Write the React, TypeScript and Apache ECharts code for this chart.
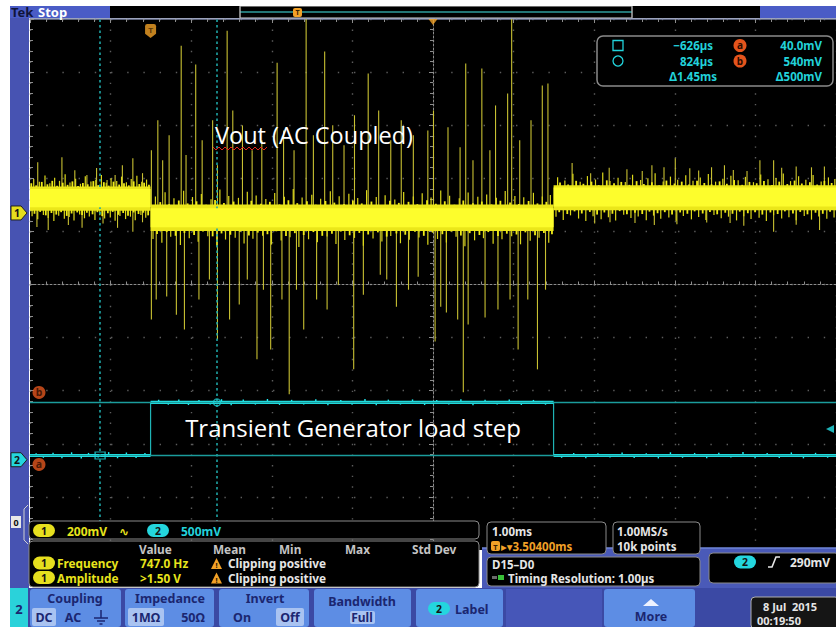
import React, { useEffect, useRef } from "react";
import * as echarts from "echarts";

const timePerDiv = 1; // ms / div
const horizontalDelay = 3.504; // ms at screen centre
const ch1Scale = 200; // mV / div
const ch2Scale = 500; // mV / div
const ch1Position = 1.347; // div
const ch2Position = -3.3; // div

// ---------- channel 1 (Vout, AC coupled), mV ----------
const ch1SegStart = [-1.496, 0, 5.0];
const ch1SegEnd = [0, 5.0, 8.504];
const ch1BandHigh = [100, 32, 104];
const ch1BandLow = [8, -68, 10];
const ch1CoreHigh = [90, 18, 96];
const ch1CoreLow = [22, -54, 24];

const ch1FuzzUp = [
  [-1.45, 128], [-1.38, 118], [-1.31, 141], [-1.25, 112], [-1.19, 133], [-1.13, 121], [-1.06, 146], [-1.0, 115],
  [-0.93, 129], [-0.87, 110], [-0.81, 138], [-0.74, 119], [-0.68, 125], [-0.61, 143], [-0.55, 114], [-0.49, 131],
  [-0.42, 120], [-0.36, 137], [-0.3, 116], [-0.24, 128], [-0.17, 140], [-0.11, 118], [-0.05, 126],
  [0.06, 62], [0.18, 78], [0.29, 55], [0.41, 84], [0.52, 60], [0.63, 71], [0.75, 52], [0.86, 88], [0.97, 64],
  [1.09, 57], [1.2, 80], [1.31, 66], [1.43, 53], [1.54, 75], [1.66, 61], [1.77, 90], [1.88, 58], [2.0, 69],
  [2.11, 54], [2.23, 82], [2.34, 63], [2.46, 72], [2.57, 56], [2.68, 86], [2.8, 60], [2.91, 67], [3.03, 51],
  [3.14, 79], [3.26, 62], [3.37, 74], [3.48, 58], [3.6, 85], [3.71, 65], [3.83, 55], [3.94, 77], [4.06, 61],
  [4.17, 70], [4.29, 57], [4.4, 83], [4.52, 64], [4.63, 59], [4.75, 76], [4.86, 62], [4.96, 68],
  [5.05, 135], [5.14, 122], [5.24, 148], [5.33, 118], [5.42, 139], [5.52, 126], [5.61, 152], [5.7, 120],
  [5.8, 133], [5.89, 117], [5.98, 144], [6.08, 124], [6.17, 131], [6.26, 150], [6.36, 119], [6.45, 137],
  [6.54, 125], [6.64, 142], [6.73, 121], [6.82, 134], [6.92, 147], [7.01, 118], [7.1, 129], [7.2, 140],
  [7.29, 123], [7.38, 136], [7.48, 116], [7.57, 145], [7.66, 127], [7.76, 132], [7.85, 149], [7.94, 120],
  [8.04, 138], [8.13, 125], [8.22, 143], [8.32, 119], [8.41, 134], [8.49, 128],
];
const ch1FuzzDown = [
  [-1.47, -12], [-1.4, -24], [-1.33, -8], [-1.27, -19], [-1.2, -30], [-1.14, -10], [-1.07, -22], [-1.01, -15],
  [-0.95, -28], [-0.88, -6], [-0.82, -20], [-0.76, -13], [-0.69, -26], [-0.63, -9], [-0.57, -21], [-0.5, -17],
  [-0.44, -29], [-0.38, -11], [-0.31, -23], [-0.25, -14], [-0.19, -27], [-0.12, -8], [-0.06, -18],
  [0.03, -98], [0.14, -112], [0.25, -90], [0.37, -121], [0.48, -95], [0.59, -108], [0.71, -88], [0.82, -126],
  [0.93, -100], [1.05, -93], [1.16, -115], [1.27, -97], [1.39, -86], [1.5, -119], [1.62, -104], [1.73, -91],
  [1.84, -128], [1.96, -99], [2.07, -110], [2.19, -89], [2.3, -117], [2.41, -102], [2.53, -94], [2.64, -123],
  [2.76, -96], [2.87, -107], [2.98, -87], [3.1, -114], [3.21, -101], [3.33, -92], [3.44, -120], [3.56, -98],
  [3.67, -111], [3.79, -90], [3.9, -125], [4.02, -103], [4.13, -95], [4.25, -116], [4.36, -99], [4.48, -88],
  [4.59, -118], [4.71, -105], [4.82, -93], [4.94, -112],
  [5.03, -14], [5.12, -26], [5.21, -9], [5.31, -21], [5.4, -30], [5.49, -12], [5.59, -24], [5.68, -16],
  [5.77, -28], [5.87, -7], [5.96, -19], [6.05, -13], [6.15, -27], [6.24, -10], [6.33, -22], [6.43, -17],
  [6.52, -29], [6.61, -11], [6.71, -24], [6.8, -15], [6.89, -26], [6.99, -8], [7.08, -20], [7.17, -14],
  [7.27, -28], [7.36, -12], [7.45, -23], [7.55, -18], [7.64, -30], [7.73, -9], [7.83, -21], [7.92, -16],
  [8.01, -27], [8.11, -11], [8.2, -25], [8.29, -13], [8.39, -22], [8.48, -17],
];
// short hairs along the band edges
const ch1EdgeUp = [
  [-1.48, 112], [-1.42, 104], [-1.35, 117], [-1.28, 108], [-1.22, 121], [-1.16, 103], [-1.09, 114], [-1.03, 106],
  [-0.97, 119], [-0.9, 102], [-0.84, 113], [-0.78, 108], [-0.71, 120], [-0.65, 105], [-0.58, 116], [-0.52, 103],
  [-0.46, 118], [-0.39, 107], [-0.33, 112], [-0.27, 104], [-0.21, 119], [-0.14, 109], [-0.08, 114], [-0.02, 106],
  [0.12, 41], [0.23, 33], [0.35, 47], [0.46, 36], [0.57, 44], [0.69, 31], [0.8, 49], [0.91, 38], [1.03, 43],
  [1.14, 30], [1.25, 46], [1.37, 35], [1.48, 42], [1.6, 32], [1.71, 48], [1.82, 37], [1.94, 44], [2.05, 31],
  [2.17, 45], [2.28, 39], [2.4, 34], [2.51, 47], [2.62, 36], [2.74, 43], [2.85, 30], [2.97, 46], [3.08, 38],
  [3.2, 42], [3.31, 33], [3.43, 48], [3.54, 35], [3.65, 44], [3.77, 31], [3.88, 47], [4.0, 37], [4.11, 43],
  [4.23, 32], [4.34, 46], [4.46, 39], [4.57, 34], [4.69, 45], [4.8, 36], [4.91, 42],
  [5.08, 115], [5.18, 107], [5.28, 121], [5.37, 110], [5.47, 118], [5.56, 105], [5.66, 123], [5.75, 112],
  [5.84, 117], [5.94, 106], [6.03, 120], [6.12, 109], [6.22, 116], [6.31, 104], [6.4, 122], [6.5, 111],
  [6.59, 118], [6.68, 107], [6.78, 121], [6.87, 113], [6.96, 108], [7.06, 119], [7.15, 110], [7.24, 124],
  [7.34, 106], [7.43, 117], [7.52, 112], [7.61, 120], [7.71, 105], [7.8, 118], [7.9, 109], [7.99, 122],
  [8.08, 111], [8.18, 116], [8.27, 107], [8.36, 121], [8.45, 113],
];
const ch1EdgeDown = [
  [-1.44, -3], [-1.37, 4], [-1.3, -9], [-1.23, 0], [-1.17, -6], [-1.11, 3], [-1.04, -11], [-0.98, -2],
  [-0.91, 2], [-0.85, -8], [-0.79, 1], [-0.72, -5], [-0.66, 3], [-0.6, -12], [-0.53, -1], [-0.47, 4],
  [-0.4, -7], [-0.34, 0], [-0.28, -10], [-0.21, 2], [-0.15, -4], [-0.09, 1], [-0.03, -9],
  [0.08, -79], [0.2, -72], [0.31, -86], [0.42, -75], [0.54, -83], [0.65, -70], [0.77, -88], [0.88, -77],
  [0.99, -82], [1.11, -71], [1.22, -85], [1.33, -74], [1.45, -80], [1.56, -69], [1.68, -87], [1.79, -76],
  [1.9, -83], [2.02, -72], [2.13, -86], [2.25, -78], [2.36, -70], [2.47, -84], [2.59, -75], [2.7, -81],
  [2.82, -73], [2.93, -89], [3.05, -77], [3.16, -82], [3.28, -71], [3.39, -86], [3.5, -74], [3.62, -80],
  [3.73, -70], [3.85, -85], [3.96, -76], [4.08, -83], [4.19, -72], [4.31, -87], [4.42, -78], [4.54, -81],
  [4.65, -73], [4.77, -84], [4.88, -75], [4.98, -80],
  [5.07, 3], [5.17, -4], [5.26, 6], [5.35, -2], [5.45, 4], [5.54, -6], [5.63, 2], [5.73, -3], [5.82, 7],
  [5.91, -5], [6.01, 1], [6.1, -4], [6.19, 5], [6.29, -1], [6.38, 3], [6.47, -6], [6.57, 2], [6.66, -3],
  [6.75, 6], [6.85, -2], [6.94, 4], [7.03, -5], [7.13, 1], [7.22, -3], [7.31, 5], [7.41, -1], [7.5, 3],
  [7.59, -6], [7.69, 2], [7.78, -4], [7.87, 6], [7.97, -2], [8.06, 4], [8.15, -5], [8.25, 1], [8.34, -3],
  [8.43, 5],
];
const ch1SpikeUp = [
  [-1.4, 191], [-1.1, 210], [-0.94, 161], [-0.79, 143], [-0.67, 169], [-0.54, 124], [-0.44, 143], [-0.35, 180],
  [-0.22, 206], [-0.1, 150],
  [0.01, 236], [0.09, 349], [0.15, 199], [0.23, 293], [0.38, 630], [0.44, 218], [0.56, 559], [0.64, 274],
  [0.77, 349], [0.83, 180], [0.95, 686], [1.02, 386], [1.14, 330], [1.26, 236], [1.38, 274], [1.57, 566],
  [1.65, 311], [1.78, 236], [1.93, 740], [2.02, 293], [2.16, 608], [2.26, 330], [2.4, 255], [2.53, 368],
  [2.7, 525], [2.83, 386], [2.98, 274], [3.11, 349], [3.26, 293], [3.44, 311], [3.51, 386], [3.69, 323],
  [3.84, 248], [3.91, 563], [4.0, 199], [4.11, 544], [4.21, 236], [4.28, 405], [4.43, 450], [4.48, 740],
  [4.58, 274], [4.72, 349], [4.86, 480], [4.93, 488],
  [5.23, 188], [5.46, 150], [5.69, 170], [5.91, 165], [6.1, 158], [6.22, 180], [6.37, 172], [6.51, 206],
  [6.69, 168], [6.8, 160], [6.96, 172], [7.12, 180], [7.23, 162], [7.4, 158], [7.56, 199], [7.73, 199],
  [7.83, 170], [8.01, 175], [8.2, 172], [8.36, 175],
];
const ch1SpikeDown = [
  [-1.41, -53], [-1.27, -64], [-1.02, -45], [-0.85, -56], [-0.59, -40], [-0.41, -56], [-0.22, -71], [-0.1, -35],
  [0.01, -401], [0.07, -326], [0.2, -315], [0.32, -383], [0.42, -439], [0.6, -326], [0.73, -251], [0.83, -476],
  [0.98, -401], [1.1, -345], [1.2, -251], [1.32, -551], [1.4, -289], [1.49, -514], [1.63, -326], [1.72, -683],
  [1.81, -289], [1.9, -439], [2.06, -326], [2.19, -364], [2.33, -270], [2.52, -589], [2.64, -308], [2.85, -233],
  [2.93, -251], [3.05, -353], [3.2, -289], [3.32, -240], [3.53, -484], [3.6, -353], [3.67, -375], [3.81, -401],
  [3.88, -675], [3.94, -420], [4.15, -394], [4.31, -364], [4.46, -326], [4.56, -514], [4.68, -326], [4.8, -589],
  [4.9, -289],
  [5.51, -40], [5.7, -35], [6.01, -38], [6.25, -45], [6.53, -42], [6.9, -36], [7.19, -38], [7.36, -48],
  [7.73, -71], [8.01, -44], [8.3, -64],
];

// ---------- channel 2 (load step), mV ----------
const ch2SegStart = [-1.496, 0, 5.0];
const ch2SegEnd = [0, 5.0, 8.504];
const ch2Level = [40, 540, 40];
const ch2Fuzz = [
  [-1.42, 62], [-1.33, 18], [-1.21, 66], [-1.1, 15], [-0.98, 70], [-0.86, 12], [-0.77, 64], [-0.65, 20],
  [-0.52, 72], [-0.41, 14], [-0.3, 68], [-0.18, 16], [-0.07, 63],
  [0.1, 565], [0.22, 518], [0.35, 568], [0.47, 515], [0.6, 562], [0.74, 520], [0.88, 570], [1.0, 512],
  [1.15, 566], [1.3, 519], [1.45, 572], [1.6, 516], [1.75, 564], [1.9, 521], [2.05, 569], [2.2, 514],
  [2.36, 563], [2.5, 518], [2.66, 571], [2.8, 513], [2.95, 566], [3.1, 520], [3.25, 568], [3.4, 515],
  [3.55, 562], [3.7, 519], [3.85, 570], [4.0, 514], [4.15, 565], [4.3, 521], [4.45, 567], [4.6, 516],
  [4.75, 563], [4.9, 518],
  [5.1, 18], [5.25, 64], [5.4, 14], [5.55, 60], [5.7, 20], [5.85, 68], [6.0, 16], [6.15, 62], [6.3, 12],
  [6.45, 70], [6.6, 18], [6.75, 64], [6.9, 15], [7.05, 66], [7.2, 20], [7.35, 72], [7.5, 14], [7.65, 63],
  [7.8, 17], [7.95, 69], [8.1, 13], [8.25, 65], [8.4, 19],
];

// ---------- cursors / trigger ----------
const cursorTimes = [-0.626, 0.824]; // ms
const cursorLevels = [40, 540]; // mV (a, b)
const cursorLabels = ["a", "b"];
const triggerTime = 0; // ms
const triggerLevel = 290; // mV

// ---------- readouts ----------
const cursorReadTime = ["\u2212626\u00b5s", "824\u00b5s", "\u03941.45ms"];
const cursorReadVolt = ["40.0mV", "540mV", "\u0394500mV"];
const measHeaders = ["Value", "Mean", "Min", "Max", "Std Dev"];
const measNames = ["Frequency", "Amplitude"];
const measValues = ["747.0 Hz", ">1.50 V"];
const measNotes = ["Clipping positive", "Clipping positive"];

// ---------- helpers ----------
const tx = (t: number) => (t - horizontalDelay) / timePerDiv;
const y1 = (mv: number) => ch1Position + mv / ch1Scale;
const y2 = (mv: number) => ch2Position + mv / ch2Scale;
const segOf = (t: number, starts: number[], ends: number[]) => {
  for (let i = 0; i < starts.length; i++) if (t >= starts[i] && t < ends[i]) return i;
  return starts.length - 1;
};
const ch1Centre = (t: number) => {
  const i = segOf(t, ch1SegStart, ch1SegEnd);
  return (ch1CoreHigh[i] + ch1CoreLow[i]) / 2;
};
const ch2At = (t: number) => ch2Level[segOf(t, ch2SegStart, ch2SegEnd)];

const GRID_LEFT = 30;
const GRID_TOP = 19;
const GRID_W = 810;
const GRID_H = 531;
const pxY = (div: number) => GRID_TOP + (5 - div) * (GRID_H / 10);

const UI = '"Noto Sans", "DejaVu Sans", sans-serif';
const ANN = '"Open Sans", "Noto Sans", sans-serif';

const YEL = "#e8e41c";
const CYA = "#22d2da";
const ORA = "#f2a127";
const WHT = "#e6e6e6";
const NAVY = "#1b2670";

const T = (x: number, y: number, text: string, fill: string, size = 12, extra: any = {}) => ({
  type: "text",
  z: 120,
  silent: true,
  x,
  y,
  style: {
    text,
    fill,
    fontSize: size,
    fontWeight: extra.weight || "bold",
    fontFamily: extra.family || UI,
    textAlign: extra.align || "left",
    align: extra.align || "left",
    textVerticalAlign: "middle",
    verticalAlign: "middle",
  },
});
const R = (x: number, y: number, w: number, h: number, fill: string, extra: any = {}) => ({
  type: "rect",
  z: extra.z ?? 100,
  silent: true,
  shape: { x, y, width: w, height: h, r: extra.r || 0 },
  style: { fill, stroke: extra.stroke || null, lineWidth: extra.lw || 1 },
});
const L = (x1: number, yA: number, x2: number, yB: number, stroke: string, lw = 1, z = 110) => ({
  type: "line",
  z,
  silent: true,
  shape: { x1, y1: yA, x2, y2: yB },
  style: { stroke, lineWidth: lw },
});
const pill = (x: number, y: number, label: string, fill: string) => [
  R(x, y - 6.5, 22, 13, fill, { r: 6.5, z: 115 }),
  T(x + 11, y, label, "#141414", 10.5, { align: "center" }),
];
const warn = (x: number, y: number) => [
  { type: "polygon", z: 115, silent: true, shape: { points: [[x, y + 6], [x + 11, y + 6], [x + 5.5, y - 5]] }, style: { fill: ORA } },
  T(x + 5.5, y + 2, "!", "#1a1000", 7.5, { align: "center" }),
];
const chMarker = (y: number, label: string, fill: string) => [
  {
    type: "polygon",
    z: 115,
    silent: true,
    shape: { points: [[11, y - 7], [21, y - 7], [27, y], [21, y + 7], [11, y + 7]] },
    style: { fill, stroke: "#202020", lineWidth: 1 },
  },
  T(17, y, label, "#141414", 10.5, { align: "center" }),
];

function buildGraphic() {
  const g: any[] = [];
  // top status bar
  g.push(R(10, 6, 826, 12, "#000"));
  g.push(R(10, 6, 100, 12, "#4a5cc6"));
  g.push(T(11, 12, "Tek", "#10143a", 13));
  g.push(T(38, 12, "Stop", "#ffffff", 13));
  g.push(R(240, 6.5, 392, 11, "#000", { stroke: "#6c6c6c" }));
  g.push(L(240, 12, 632, 12, "#2f9c9c", 1.5));
  g.push(L(240, 6, 240, 18, "#cfcfcf", 1));
  g.push(L(632, 6, 632, 18, "#cfcfcf", 1));
  g.push(R(293, 8, 9, 9, ORA, { r: 2, z: 112 }));
  g.push(T(297.5, 12.5, "T", "#3a2000", 7, { align: "center" }));
  g.push(R(760, 6, 76, 12, "#4a5cc6"));
  // left strip
  g.push(R(10, 6, 19, 582, "#4753b2", { z: 90 }));
  g.push(...chMarker(pxY(ch1Position), "1", "#e6df1e"));
  g.push(...chMarker(pxY(ch2Position), "2", "#24d6de"));
  g.push(R(11, 516, 10, 12, "#e8e8e8", { z: 115 }));
  g.push(T(16, 522, "0", "#111", 9, { align: "center" }));
  g.push({
    type: "polyline",
    z: 115,
    silent: true,
    shape: { points: [[28, 505], [24, 509], [24, 540], [28, 544]] },
    style: { stroke: "#d0d0d0", lineWidth: 1, fill: null },
  });

  // cursor readout box
  const rowY = [45.5, 61, 76.5];
  g.push(R(597, 36, 236, 50, "#000", { r: 6, stroke: "#8a8a8a", lw: 1.5, z: 105 }));
  g.push(R(613, rowY[0] - 5, 10, 10, "none", { stroke: CYA, lw: 1.3, z: 115 }));
  g.push({ type: "circle", z: 115, silent: true, shape: { cx: 618, cy: rowY[1], r: 5 }, style: { fill: "none", stroke: CYA, lineWidth: 1.3 } });
  g.push(T(713, rowY[0], cursorReadTime[0], CYA, 11.5, { align: "right" }));
  g.push(T(713, rowY[1], cursorReadTime[1], CYA, 11.5, { align: "right" }));
  g.push(T(717, rowY[2], cursorReadTime[2], CYA, 11.5, { align: "right" }));
  ["a", "b"].forEach((lab, i) => {
    g.push({ type: "circle", z: 115, silent: true, shape: { cx: 740, cy: rowY[i], r: 6.5 }, style: { fill: "#e4541c" } });
    g.push(T(740, rowY[i] - 0.5, lab, "#2a0c00", 10, { align: "center" }));
  });
  g.push(T(822, rowY[0], cursorReadVolt[0], CYA, 11.5, { align: "right" }));
  g.push(T(822, rowY[1], cursorReadVolt[1], CYA, 11.5, { align: "right" }));
  g.push(T(822, rowY[2], cursorReadVolt[2], CYA, 11.5, { align: "right" }));

  // annotations
  g.push(T(314, 135, "Vout (AC Coupled)", "#ffffff", 23.5, { weight: "normal", family: ANN, align: "center" }));
  const sq: number[][] = [];
  for (let x = 213; x <= 267; x += 3) sq.push([x, (x - 213) % 6 === 0 ? 147 : 150]);
  g.push({ type: "polyline", z: 121, silent: true, shape: { points: sq }, style: { stroke: "#e0261c", lineWidth: 1, fill: null } });
  g.push(T(353, 427, "Transient Generator load step", "#ffffff", 24, { weight: "normal", family: ANN, align: "center" }));

  // bottom readout region
  g.push(R(482, 548, 354, 40, "#4a5ab8", { z: 95 }));
  g.push(L(482, 548, 836, 548, "#6f86d8", 1.5, 96));
  g.push(R(29, 521, 450, 18, "#000", { r: 4, stroke: "#8a8a8a" }));
  g.push(...pill(33, 530.5, "1", "#e6df1e"));
  g.push(T(67, 531, "200mV", YEL, 12));
  g.push(T(119, 531, "\u223f", YEL, 12));
  g.push(...pill(147, 530.5, "2", "#24d6de"));
  g.push(T(181, 531, "500mV", CYA, 12));
  g.push(R(29, 541, 450, 46, "#000", { r: 4, stroke: "#8a8a8a" }));
  const hx = [139, 213, 279, 345, 412];
  measHeaders.forEach((h, i) => g.push(T(hx[i], 548.5, h, "#c4c4c4", 11.8)));
  measNames.forEach((n, i) => {
    const y = 563 + i * 14.5;
    g.push(...pill(33, y, "1", "#e6df1e"));
    g.push(T(57, y, n, YEL, 11.8));
    g.push(T(140, y, measValues[i], YEL, 11.8));
    g.push(...warn(211, y));
    g.push(T(228, y, measNotes[i], WHT, 11.8));
  });
  // timebase boxes
  g.push(R(487, 522, 119, 32, "#000", { r: 4, stroke: "#8a8a8a" }));
  g.push(T(492, 531.5, "1.00ms", WHT, 11.5));
  g.push(R(491, 541, 9, 10, ORA, { r: 2, z: 115 }));
  g.push(T(495.5, 546.5, "T", "#3a2000", 7.5, { align: "center" }));
  g.push(T(501, 546, "\u25b8\u25be3.50400ms", ORA, 11.5));
  g.push(R(613, 522, 87, 32, "#000", { r: 4, stroke: "#8a8a8a" }));
  g.push(T(617, 531.5, "1.00MS/s", WHT, 11.5));
  g.push(T(617, 546, "10k points", WHT, 11.5));
  g.push(R(487, 557, 213, 29, "#000", { r: 4, stroke: "#8a8a8a" }));
  g.push(T(492, 564.5, "D15\u2013D0", WHT, 11.5));
  g.push(R(492, 576, 5, 3, "#6a6a6a", { z: 115 }));
  g.push(R(498, 575, 6, 5, "#38c038", { z: 115 }));
  g.push(T(508, 578.5, "Timing Resolution: 1.00\u00b5s", WHT, 11.5));
  g.push(R(709, 553, 130, 30, "#000", { r: 4, stroke: "#8a8a8a" }));
  g.push(...pill(734, 562, "2", "#24d6de"));
  g.push({
    type: "polyline",
    z: 115,
    silent: true,
    shape: { points: [[768, 567], [772, 567], [776, 557], [780, 557]] },
    style: { stroke: WHT, lineWidth: 1.6, fill: null },
  });
  g.push(T(790, 562, "290mV", WHT, 12));

  // bottom button bar
  g.push(R(10, 588, 826, 39, "#3b49a4", { z: 100 }));
  g.push(R(10, 588, 18, 39, "#2ad2da", { z: 101 }));
  g.push(T(19, 609, "2", NAVY, 13, { align: "center" }));
  const btns = [
    [30, 91],
    [125, 89],
    [219, 90],
    [314, 97],
    [416, 87],
    [604, 91],
  ];
  btns.forEach(([x, w]) => g.push(R(x, 589, w, 38, "#5d8de4", { r: 3, z: 101 })));
  g.push(R(506, 589, 96, 38, "#4656b8", { z: 101 }));
  const hl = [
    [32, 608, 24, 18],
    [128, 608, 36, 18],
    [276, 608, 28, 18],
    [350, 611, 25, 13],
  ];
  hl.forEach(([x, y, w, h]) => g.push(R(x, y, w, h, "#a9c3f1", { r: 2, z: 102 })));
  g.push(T(75, 598, "Coupling", NAVY, 12.5, { align: "center" }));
  g.push(T(44, 617.5, "DC", NAVY, 12.5, { align: "center" }));
  g.push(T(73, 617.5, "AC", NAVY, 12.5, { align: "center" }));
  g.push(L(101, 610, 101, 618, NAVY, 1.5));
  g.push(L(94, 618, 108, 618, NAVY, 1.5));
  g.push(L(97, 621, 105, 621, NAVY, 1.5));
  g.push(L(99.5, 624, 102.5, 624, NAVY, 1.5));
  g.push(T(170, 598, "Impedance", NAVY, 12.5, { align: "center" }));
  g.push(T(146, 617.5, "1M\u03a9", NAVY, 12.5, { align: "center" }));
  g.push(T(193, 617.5, "50\u03a9", NAVY, 12.5, { align: "center" }));
  g.push(T(265, 598, "Invert", NAVY, 12.5, { align: "center" }));
  g.push(T(242, 617.5, "On", NAVY, 12.5, { align: "center" }));
  g.push(T(290, 617.5, "Off", NAVY, 12.5, { align: "center" }));
  g.push(T(362, 601, "Bandwidth", NAVY, 12.5, { align: "center" }));
  g.push(T(362, 617, "Full", NAVY, 12, { align: "center" }));
  g.push(...pill(428, 608.5, "2", "#24d6de"));
  g.push(T(455, 609, "Label", NAVY, 12.5));
  g.push({ type: "polygon", z: 115, silent: true, shape: { points: [[643, 606], [659, 606], [651, 599]] }, style: { fill: "#eef2ff" } });
  g.push(T(651, 616, "More", NAVY, 12.5, { align: "center" }));
  g.push(R(751, 597, 88, 32, "#151515", { r: 4, stroke: "#b0b0b0", z: 101 }));
  g.push(T(763, 606.5, "8 Jul  2015", WHT, 11));
  g.push(T(757, 620, "00:19:50", WHT, 11));
  return g;
}

function buildOption() {
  const segRect = (starts: number[], ends: number[], hi: number[], lo: number[]) =>
    starts.map((s, i) => [tx(s), tx(ends[i]), y1(hi[i]), y1(lo[i])]);
  const rectItem = (fill: string) => (_p: any, api: any) => {
    const a = api.coord([api.value(0), api.value(2)]);
    const b = api.coord([api.value(1), api.value(3)]);
    return { type: "rect", shape: { x: a[0], y: a[1], width: b[0] - a[0], height: b[1] - a[1] }, style: { fill } };
  };
  const lineItem = (stroke: string, lw: number) => (_p: any, api: any) => {
    const a = api.coord([api.value(0), api.value(1)]);
    const b = api.coord([api.value(0), api.value(2)]);
    return { type: "line", shape: { x1: a[0], y1: a[1], x2: b[0], y2: b[1] }, style: { stroke, lineWidth: lw } };
  };
  const spikeData = (arr: number[][]) => arr.map(([t, v]) => [tx(t), y1(ch1Centre(t)), y1(v)]);

  const ch2Path: number[][] = [];
  ch2SegStart.forEach((s, i) => {
    ch2Path.push([tx(s), y2(ch2Level[i])]);
    ch2Path.push([tx(ch2SegEnd[i]), y2(ch2Level[i])]);
  });
  const ch2Flat = ch2SegStart.map((s, i) => [tx(s), tx(ch2SegEnd[i]), y2(ch2Level[i]) + 0.03, y2(ch2Level[i]) - 0.03]);
  const ch2FuzzData = ch2Fuzz.map(([t, v]) => [tx(t), y2(ch2At(t)), y2(v)]);

  const axisBase = { type: "value", min: -5, max: 5, interval: 1, axisLabel: { show: false } };
  const grey = "#8d8d8d";

  return {
    animation: false,
    backgroundColor: "#ffffff",
    grid: {
      left: GRID_LEFT,
      top: GRID_TOP,
      width: GRID_W,
      height: GRID_H,
      show: true,
      backgroundColor: "#000000",
      borderWidth: 0,
    },
    xAxis: [
      {
        ...axisBase,
        position: "bottom",
        axisLine: { show: true, onZero: true, onZeroAxisIndex: 0, lineStyle: { color: grey, width: 1, type: [2, 2] } },
        axisTick: { show: true, inside: true, length: 4, lineStyle: { color: grey } },
        minorTick: { show: true, splitNumber: 5, length: 3, lineStyle: { color: grey } },
        splitLine: { show: true, lineStyle: { color: "#5c5c5c", width: 1.4, type: [1.4, 9.22] } },
      },
      {
        ...axisBase,
        position: "top",
        axisLine: { show: true, onZero: false, lineStyle: { color: "#7d86a8", width: 1.5 } },
        axisTick: { show: true, inside: true, length: 4, lineStyle: { color: grey } },
        minorTick: { show: true, splitNumber: 5, length: 3, lineStyle: { color: grey } },
        splitLine: { show: false },
      },
    ],
    yAxis: [
      {
        ...axisBase,
        position: "right",
        axisLine: { show: true, onZero: true, onZeroAxisIndex: 0, lineStyle: { color: grey, width: 1, type: [2, 2] } },
        axisTick: { show: true, inside: true, length: 4, lineStyle: { color: grey } },
        minorTick: { show: true, splitNumber: 5, length: 3, lineStyle: { color: grey } },
        splitLine: { show: true, lineStyle: { color: "#5c5c5c", width: 1.4, type: [1.4, 14.8] } },
      },
      {
        ...axisBase,
        position: "left",
        axisLine: { show: false, onZero: false },
        axisTick: { show: true, inside: true, length: 4, lineStyle: { color: grey } },
        minorTick: { show: true, splitNumber: 5, length: 3, lineStyle: { color: grey } },
        splitLine: { show: false },
      },
    ],
    series: [
      {
        type: "line",
        name: "ch2",
        z: 3,
        data: ch2Path,
        showSymbol: false,
        symbol: "none",
        lineStyle: { color: "#1fb3b5", width: 1.2 },
        markLine: {
          silent: true,
          symbol: "none",
          label: { show: false },
          z: 8,
          data: [
            ...cursorTimes.map((t) => ({ xAxis: tx(t), lineStyle: { color: "#1fa6a6", width: 1.6, type: [2.5, 3] } })),
            ...cursorLevels.map((v) => ({ yAxis: y2(v), lineStyle: { color: "#1b9c9c", width: 1.3, type: "solid" } })),
          ],
        },
      },
      {
        type: "custom",
        name: "ch2-flat",
        z: 4,
        clip: true,
        renderItem: rectItem("#22eef2"),
        encode: { x: [0, 1], y: [2, 3] },
        data: ch2Flat,
      },
      {
        type: "custom",
        name: "ch2-noise",
        z: 4,
        clip: true,
        renderItem: lineItem("#22eef2", 1.4),
        encode: { x: 0, y: [1, 2] },
        data: ch2FuzzData,
      },
      {
        type: "custom",
        name: "ch1-spikes",
        z: 5,
        clip: true,
        renderItem: lineItem("#c8c032", 1.1),
        encode: { x: 0, y: [1, 2] },
        data: [...spikeData(ch1SpikeUp), ...spikeData(ch1SpikeDown)],
      },
      {
        type: "custom",
        name: "ch1-fuzz",
        z: 6,
        clip: true,
        renderItem: lineItem("#dcd81a", 1.2),
        encode: { x: 0, y: [1, 2] },
        data: [...spikeData(ch1FuzzUp), ...spikeData(ch1FuzzDown)],
      },
      {
        type: "custom",
        name: "ch1-edge",
        z: 6,
        clip: true,
        renderItem: lineItem("#f0ec18", 1.8),
        encode: { x: 0, y: [1, 2] },
        data: [...spikeData(ch1EdgeUp), ...spikeData(ch1EdgeDown)],
      },
      {
        type: "custom",
        name: "ch1-band",
        z: 7,
        clip: true,
        renderItem: rectItem("#ebe71a"),
        encode: { x: [0, 1], y: [2, 3] },
        data: segRect(ch1SegStart, ch1SegEnd, ch1BandHigh, ch1BandLow),
      },
      {
        type: "custom",
        name: "ch1-core",
        z: 8,
        clip: true,
        renderItem: rectItem("#fdfd2c"),
        encode: { x: [0, 1], y: [2, 3] },
        data: segRect(ch1SegStart, ch1SegEnd, ch1CoreHigh, ch1CoreLow),
      },
      {
        type: "scatter",
        name: "cursor-marks",
        z: 9,
        silent: true,
        data: [
          { value: [tx(cursorTimes[0]), y2(ch2At(cursorTimes[0]))], symbol: "rect", symbolSize: [10, 7] },
          { value: [tx(cursorTimes[1]), y2(ch2At(cursorTimes[1]))], symbol: "circle", symbolSize: 7 },
        ],
        itemStyle: { color: "rgba(0,0,0,0)", borderColor: "#20d0d4", borderWidth: 1.2 },
      },
      {
        type: "scatter",
        name: "cursor-labels",
        z: 10,
        silent: true,
        clip: false,
        symbol: "circle",
        symbolSize: 13,
        data: cursorLevels.map((v, i) => ({
          value: [-5, y2(v)],
          symbolOffset: [9, i === 0 ? 9 : -10],
          label: { show: true, formatter: cursorLabels[i] },
        })),
        itemStyle: { color: "#e2561e" },
        label: { position: "inside", color: "#2a0c00", fontSize: 10.5, fontWeight: "bold", fontFamily: UI },
      },
      {
        type: "scatter",
        name: "trigger-level",
        z: 10,
        silent: true,
        clip: false,
        symbol: "triangle",
        symbolRotate: 90,
        symbolSize: [8, 8],
        symbolOffset: [-6, 0],
        data: [[5, y2(triggerLevel)]],
        itemStyle: { color: "#26e0e6" },
      },
      {
        type: "scatter",
        name: "trigger-pos",
        z: 10,
        silent: true,
        clip: false,
        symbol: "path://M0,2 Q0,0 2,0 L8,0 Q10,0 10,2 L10,9 L5,13 L0,9 Z",
        symbolSize: [11, 14],
        symbolOffset: [0, 12],
        data: [[tx(triggerTime), 5]],
        itemStyle: { color: ORA },
        label: { show: true, formatter: "T", position: "inside", color: "#3a2000", fontSize: 8, fontWeight: "bold", offset: [0, -1] },
      },
      {
        type: "scatter",
        name: "expansion",
        z: 10,
        silent: true,
        clip: false,
        symbol: "triangle",
        symbolRotate: 180,
        symbolSize: [9, 6],
        symbolOffset: [0, 3],
        data: [[0, 5]],
        itemStyle: { color: ORA },
      },
    ],
    graphic: { elements: buildGraphic() },
  };
}

export default function App() {
  const ref = useRef<HTMLDivElement>(null);
  useEffect(() => {
    if (!ref.current) return;
    const chart = echarts.init(ref.current, undefined, { renderer: "svg" });
    chart.setOption(buildOption() as any);
    return () => chart.dispose();
  }, []);
  return (
    <div
      ref={ref}
      style={{ position: "absolute", left: 0, top: 0, width: 836, height: 627, background: "#fff" }}
    />
  );
}
